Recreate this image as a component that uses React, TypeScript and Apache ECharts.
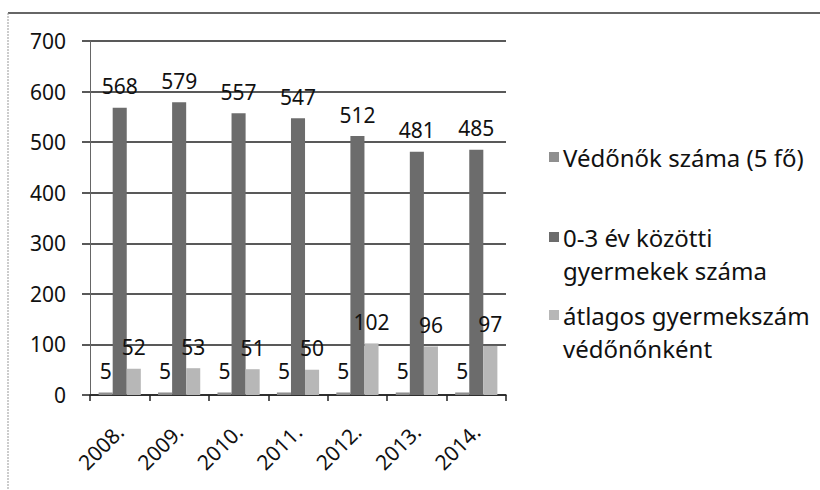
import React, { useEffect, useRef } from "react";
import * as echarts from "echarts";

const categories = ["2008.", "2009.", "2010.", "2011.", "2012.", "2013.", "2014."];
const vedonokSzama = [5, 5, 5, 5, 5, 5, 5];
const gyermekekSzama = [568, 579, 557, 547, 512, 481, 485];
const atlagosGyermekszam = [52, 53, 51, 50, 102, 96, 97];
const seriesNames = [
  "Védőnők száma (5 fő)",
  "0-3 év közötti\ngyermekek száma",
  "átlagos gyermekszám\nvédőnőnként",
];
const seriesColors = ["#8f8f8f", "#6c6c6c", "#b7b7b7"];
const yMin = 0;
const yMax = 700;
const yInterval = 100;

const FONT = "'Noto Sans', sans-serif";

export default function App() {
  const ref = useRef<HTMLDivElement>(null);

  useEffect(() => {
    if (!ref.current) return;
    const chart = echarts.init(ref.current, null, { renderer: "svg" });

    const label = {
      show: true,
      position: "top" as const,
      distance: 11,
      color: "#111",
      fontFamily: FONT,
      fontSize: 21,
    };

    const dataSets = [vedonokSzama, gyermekekSzama, atlagosGyermekszam];

    const legendTops = [157, 237, 315];
    const legendGraphics: any[] = [];
    seriesNames.forEach((name, i) => {
      legendGraphics.push({
        type: "rect",
        shape: { x: 549, y: legendTops[i] - 5, width: 10, height: 10 },
        style: { fill: seriesColors[i] },
      });
      legendGraphics.push({
        type: "text",
        x: 563,
        y: legendTops[i] - 16.5,
        style: {
          text: name,
          fill: "#111",
          font: `24px ${FONT}`,
          lineHeight: 33,
          textVerticalAlign: "top",
        },
      });
    });

    chart.setOption({
      animation: false,
      backgroundColor: "#ffffff",
      grid: { left: 90, right: 314, top: 41, bottom: 95, containLabel: false },
      xAxis: {
        type: "category",
        data: categories,
        axisLine: { show: true, lineStyle: { color: "#222", width: 1.5 } },
        axisTick: { show: true, length: 6, lineStyle: { color: "#222", width: 1.5 } },
        axisLabel: {
          rotate: 45,
          margin: 33,
          color: "#111",
          fontFamily: FONT,
          fontSize: 21,
        },
        splitLine: { show: false },
      },
      yAxis: {
        type: "value",
        min: yMin,
        max: yMax,
        interval: yInterval,
        axisLine: { show: true, lineStyle: { color: "#666", width: 1 } },
        axisTick: { show: true, length: 8, lineStyle: { color: "#222", width: 1.5 } },
        axisLabel: {
          margin: 24,
          color: "#111",
          fontFamily: FONT,
          fontSize: 21,
        },
        splitLine: { show: true, lineStyle: { color: "#222", width: 1.5 } },
      },
      series: dataSets.map((d, i) => ({
        name: seriesNames[i],
        type: "bar",
        data: d,
        barGap: "0%",
        barCategoryGap: "29%",
        itemStyle: { color: seriesColors[i] },
        label,
      })),
      graphic: [
        {
          type: "line",
          shape: { x1: 8, y1: 13, x2: 820, y2: 13 },
          style: { stroke: "#333", lineWidth: 1.5 },
        },
        {
          type: "line",
          shape: { x1: 8, y1: 13, x2: 8, y2: 490 },
          style: { stroke: "#999", lineWidth: 1, lineDash: [2, 1] },
        },
        ...legendGraphics,
      ],
    });

    return () => chart.dispose();
  }, []);

  return (
    <div
      ref={ref}
      style={{ position: "fixed", left: 0, top: 0, width: 820, height: 490 }}
    />
  );
}
